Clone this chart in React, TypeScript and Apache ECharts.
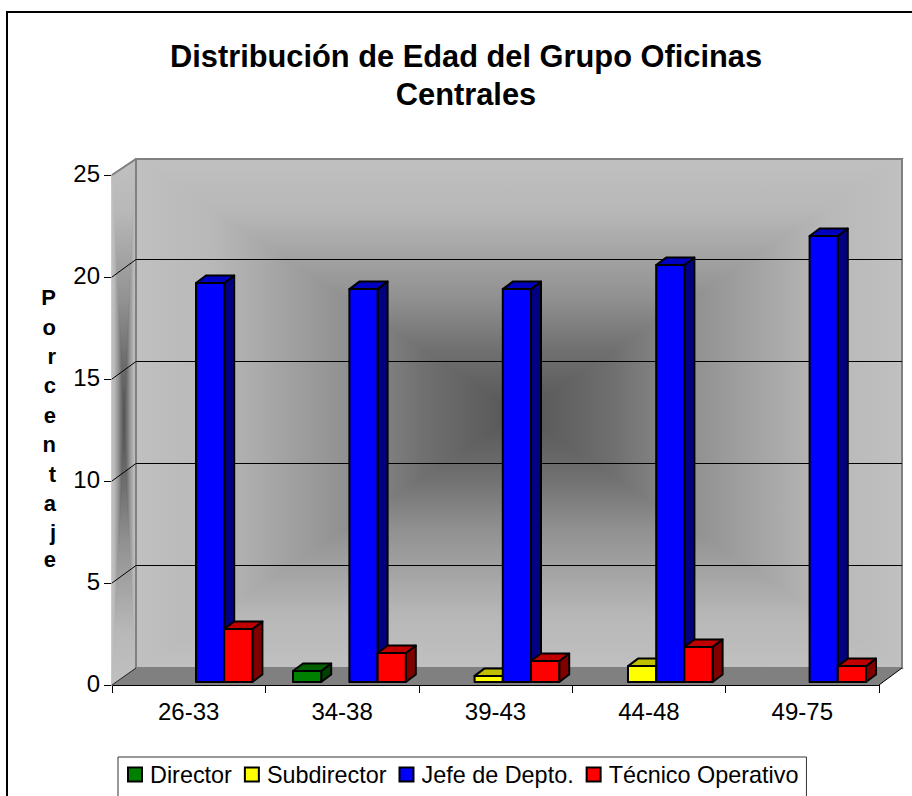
import React, { useEffect, useRef } from "react";
import * as echarts from "echarts";

const categories = ["26-33", "34-38", "39-43", "44-48", "49-75"];
const yTicks = [5, 10, 15, 20];
const director = [null, 0.54, null, null, null];
const subdirector = [null, null, 0.3, 0.78, null];
const jefe = [19.56, 19.26, 19.26, 20.44, 21.86];
const tecnico = [2.6, 1.42, 1.03, 1.72, 0.78];
const titleText = "Distribución de Edad del Grupo Oficinas\nCentrales";
const yNameLetters = ["P", "o", "r", "c", "e", "n", "t", "a", "j", "e"];

const seriesDefs = [
  { name: "Director", values: director, front: "#008000", top: "#006000", side: "#004000" },
  { name: "Subdirector", values: subdirector, front: "#ffff00", top: "#c0c000", side: "#808000" },
  { name: "Jefe de Depto.", values: jefe, front: "#0000ff", top: "#0000c0", side: "#000080" },
  { name: "Técnico Operativo", values: tecnico, front: "#ff0000", top: "#c00000", side: "#800000" },
];

const DEPTH_X = 24;
const DEPTH_Y = 17;
const BAR_W = 28.2 / 153.4;
const BAR_START = 27.6 / 153.4;
const BAR_SHIFT_Y = 3;
const BAR_DX = 10;
const BAR_DY = 7.5;

const shade = (x0: number, y0: number, x1: number, y1: number) =>
  new echarts.graphic.LinearGradient(x0, y0, x1, y1, [
    { offset: 0, color: "#c0c0c0" },
    { offset: 0.2, color: "#b8b8b8" },
    { offset: 0.55, color: "#909090" },
    { offset: 0.75, color: "#707070" },
    { offset: 1, color: "#555555" },
  ]);

function panel(x0: number, y0: number, x1: number, y1: number, xs0: number, xs1: number) {
  // Rectangle-style gradient: four triangles meeting at the centre. xs0/xs1 shear the corners.
  const a: number[] = [x0, y0 + (xs0 || 0)];
  const b: number[] = [x1, y0];
  const c: number[] = [x1, y1];
  const d: number[] = [x0, y1 + (xs1 || 0)];
  const m: number[] = [(a[0] + c[0]) / 2, (a[1] + c[1] + b[1] + d[1]) / 4];
  const tri = (p: number[], q: number[], fill: any) => ({
    type: "polygon",
    shape: { points: [p, q, m] },
    style: { fill, stroke: fill, lineWidth: 1.5 },
  });
  return [
    tri(a, b, shade(0, 0, 0, 1)),
    tri(d, c, shade(0, 1, 0, 0)),
    tri(a, d, shade(0, 0, 1, 0)),
    tri(b, c, shade(1, 0, 0, 0)),
  ];
}

function renderWalls(params: any, api: any) {
  const s = params.coordSys;
  const left = s.x;
  const right = s.x + s.width;
  const top = s.y;
  const bottom = s.y + s.height;
  const bl = left + DEPTH_X;
  const br = right + DEPTH_X - 1;
  const bt = top - DEPTH_Y + 1;
  const bb = bottom - DEPTH_Y;
  const children: any[] = [];
  children.push(...panel(bl, bt, br, bb, 0, 0));
  children.push(...panel(left, bt, bl, bb, DEPTH_Y - 1, DEPTH_Y));
  children.push({
    type: "polygon",
    shape: { points: [[left, bottom], [right, bottom], [br, bb], [bl, bb]] },
    style: { fill: "#808080" },
  });
  children.push({
    type: "polyline",
    shape: { points: [[left, top], [bl, bt], [br, bt], [br, bb], [bl, bb], [bl, bt]] },
    style: { fill: "none", stroke: "#808080", lineWidth: 2 },
  });
  yTicks.forEach((v) => {
    const y = api.coord([0, v])[1];
    children.push({
      type: "polyline",
      shape: { points: [[left, y], [bl, y - DEPTH_Y - 0.5], [br, y - DEPTH_Y - 0.5]] },
      style: { fill: "none", stroke: "#000000", lineWidth: 1 },
    });
  });
  children.push({
    type: "line",
    shape: { x1: left, y1: bottom, x2: bl, y2: bb },
    style: { stroke: "#222222", lineWidth: 1 },
  });
  children.push({
    type: "line",
    shape: { x1: right, y1: bottom, x2: br, y2: bb },
    style: { stroke: "#000000", lineWidth: 1 },
  });
  return { type: "group", children };
}

function makeBar(idx: number, def: any) {
  return (params: any, api: any) => {
    const v = api.value(1);
    if (v == null || isNaN(v)) return null;
    const cat = api.value(0);
    const band = api.size([1, 0])[0];
    const base = api.coord([cat, 0]);
    const tip = api.coord([cat, v]);
    const x0 = base[0] - band / 2 + band * (BAR_START + idx * BAR_W);
    const x1 = x0 + band * BAR_W;
    const y0 = base[1] - BAR_SHIFT_Y;
    const y1 = tip[1] - BAR_SHIFT_Y;
    const line = { stroke: "#000000", lineWidth: 2, lineJoin: "round" };
    return {
      type: "group",
      children: [
        {
          type: "polygon",
          shape: { points: [[x1, y0], [x1 + BAR_DX, y0 - BAR_DY], [x1 + BAR_DX, y1 - BAR_DY], [x1, y1]] },
          style: { fill: def.side, ...line },
        },
        {
          type: "polygon",
          shape: { points: [[x0, y1], [x1, y1], [x1 + BAR_DX, y1 - BAR_DY], [x0 + BAR_DX, y1 - BAR_DY]] },
          style: { fill: def.top, ...line },
        },
        {
          type: "polygon",
          shape: { points: [[x0, y0], [x1, y0], [x1, y1], [x0, y1]] },
          style: { fill: def.front, ...line },
        },
      ],
    };
  };
}

export default function App() {
  const ref = useRef<HTMLDivElement>(null);
  useEffect(() => {
    document.body.style.margin = "0";
    const chart = echarts.init(ref.current!, null, { renderer: "svg" });
    const font = "'Liberation Sans', Arial, sans-serif";
    const nameStyle = { fontFamily: font, fontSize: 22, fontWeight: "bold", color: "#000", lineHeight: 29.4 };
    const last = yNameLetters.length - 1;
    chart.setOption({
      animation: false,
      backgroundColor: "#ffffff",
      textStyle: { fontFamily: font },
      title: {
        text: titleText,
        left: 461,
        top: 32,
        textAlign: "center",
        textStyle: { fontFamily: font, fontSize: 30.8, fontWeight: "bold", color: "#000", lineHeight: 38 },
      },
      legend: {
        left: 118,
        top: 757,
        orient: "horizontal",
        data: seriesDefs.map((d) => d.name),
        icon: "rect",
        itemWidth: 14,
        itemHeight: 14,
        itemGap: 12,
        padding: [6, 8, 18, 9],
        borderColor: "#333333",
        borderWidth: 1,
        backgroundColor: "#ffffff",
        itemStyle: { borderColor: "#000000", borderWidth: 2 },
        textStyle: { fontFamily: font, fontSize: 23.4, color: "#000", padding: [0, 0, 0, 3] },
      },
      grid: { left: 112, right: 33, top: 175, bottom: 111 },
      xAxis: {
        type: "category",
        data: categories,
        axisLine: { show: true, lineStyle: { color: "#000", width: 1.2 } },
        axisTick: { show: true, length: 8, alignWithLabel: false, lineStyle: { color: "#000", width: 1 } },
        axisLabel: { fontFamily: font, fontSize: 24, color: "#000", margin: 14 },
        splitLine: { show: false },
      },
      yAxis: {
        type: "value",
        min: 0,
        max: 25,
        interval: 5,
        name: yNameLetters.map((c, i) => `{${i === last ? "b" : "a"}|${c}}`).join("\n"),
        nameLocation: "middle",
        nameRotate: 0,
        nameGap: 56,
        nameTextStyle: {
          ...nameStyle,
          rich: { a: { ...nameStyle }, b: { ...nameStyle, padding: [0, 0, 5, 0] } },
        },
        axisLine: { show: true, lineStyle: { color: "#000", width: 1.2 } },
        axisTick: { show: true, length: 8, lineStyle: { color: "#000", width: 1 } },
        axisLabel: {
          fontFamily: font,
          fontSize: 24,
          color: "#000",
          margin: 12,
          formatter: "{a|{value}}",
          rich: { a: { fontFamily: font, fontSize: 24, color: "#000", padding: [0, 0, 4, 0] } },
        },
        splitLine: { show: false },
      },
      graphic: [
        {
          type: "rect",
          shape: { x: 7, y: 12, width: 920, height: 800 },
          style: { fill: "none", stroke: "#000", lineWidth: 2 },
          silent: true,
          z: 100,
        },
      ],
      series: [
        {
          type: "custom",
          name: "walls",
          coordinateSystem: "cartesian2d",
          data: [[0, 0]],
          renderItem: renderWalls,
          silent: true,
          z: 1,
        },
        ...seriesDefs.map((d, i) => ({
          type: "custom",
          name: d.name,
          coordinateSystem: "cartesian2d",
          data: d.values.map((v, c) => [c, v]),
          itemStyle: { color: d.front },
          renderItem: makeBar(i, d),
          silent: true,
          z: 3,
        })),
      ],
    });
    return () => chart.dispose();
  }, []);
  return <div ref={ref} style={{ width: 912, height: 796, overflow: "hidden" }} />;
}
